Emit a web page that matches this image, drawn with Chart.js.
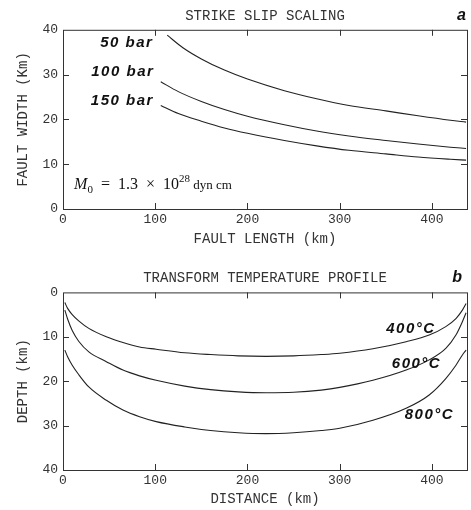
<!DOCTYPE html>
<html>
<head>
<meta charset="utf-8">
<script src="https://cdn.jsdelivr.net/npm/chart.js@4"></script>
<style>
  html, body { margin: 0; padding: 0; background: #fff; }
  #wrap { position: relative; width: 471px; height: 510px; }
  canvas { position: absolute; left: 0; }
</style>
</head>
<body>
<div id="wrap">
  <canvas id="scalingChart" width="471" height="255" style="top:0"></canvas>
  <canvas id="profileChart" width="471" height="255" style="top:255px"></canvas>
</div>
<script>
// panel a: fault width vs fault length (km)
const length50 = [113, 130, 150, 175, 200, 240, 275, 310, 350, 385, 420, 437];
const width50 = [38.8, 36.0, 33.5, 31.0, 29.0, 26.4, 24.6, 23.1, 21.9, 20.8, 19.8, 19.4];
const length100 = [106, 125, 150, 175, 200, 240, 275, 310, 350, 385, 420, 437];
const width100 = [28.4, 26.2, 24.0, 22.2, 20.7, 18.8, 17.4, 16.3, 15.3, 14.5, 13.8, 13.5];
const width150 = [23.1, 21.3, 19.6, 18.1, 16.9, 15.3, 14.1, 13.1, 12.3, 11.6, 11.1, 10.9];

// panel b: isotherm depth vs distance (km)
const distance = [2, 5, 10, 17, 28, 47, 65, 83, 101, 132, 160, 190, 220, 250, 280, 300, 336, 372, 397, 415, 426, 433, 437];
const depth400 = [2.3, 3.6, 5.0, 6.4, 8.1, 10.0, 11.3, 12.3, 12.8, 13.6, 14.0, 14.3, 14.4, 14.3, 14.0, 13.7, 12.7, 11.1, 9.6, 7.7, 5.9, 4.0, 2.5];
const depth600 = [4.0, 6.0, 8.6, 11.0, 13.4, 15.6, 17.5, 18.8, 19.8, 21.1, 21.9, 22.4, 22.6, 22.5, 22.0, 21.4, 19.8, 17.5, 15.2, 12.6, 9.6, 6.6, 4.6];
const depth800 = [13.0, 14.5, 16.4, 18.5, 21.3, 24.3, 26.5, 28.0, 29.1, 30.3, 31.1, 31.6, 31.8, 31.6, 31.1, 30.6, 28.8, 26.1, 23.1, 19.4, 16.4, 14.1, 13.0];

const xTicks = [0, 100, 200, 300, 400];
const yTicks = [0, 10, 20, 30, 40];

const INK = '#222';
const plotFont = { family: '"Liberation Mono", "DejaVu Sans Mono", monospace', size: 14 };
const tickFont = { family: '"Liberation Mono", "DejaVu Sans Mono", monospace', size: 13 };

function toPoints(xs, ys) {
    return xs.map((v, i) => ({ x: v, y: ys[i] }));
}

function curve(xs, ys) {
    return {
        data: toPoints(xs, ys),
        borderColor: INK,
        borderWidth: 1.1,
        pointRadius: 0,
        fill: false,
        cubicInterpolationMode: 'monotone'
    };
}

// frame round the plot with short inward ticks on all four sides
const frameTicks = {
    id: 'frameTicks',
    afterDatasetsDraw(chart) {
        const { ctx, chartArea: a, scales: { x, y } } = chart;
        const len = 6;
        ctx.save();
        ctx.strokeStyle = '#333';
        ctx.lineWidth = 1;
        ctx.strokeRect(a.left + 0.5, a.top + 0.5, a.right - a.left, a.bottom - a.top);
        ctx.beginPath();
        xTicks.forEach(v => {
            if (v <= x.min || v >= x.max) return;
            const px = Math.round(x.getPixelForValue(v)) + 0.5;
            ctx.moveTo(px, a.top); ctx.lineTo(px, a.top + len);
            ctx.moveTo(px, a.bottom); ctx.lineTo(px, a.bottom - len);
        });
        yTicks.forEach(v => {
            if (v <= y.min || v >= y.max) return;
            const py = Math.round(y.getPixelForValue(v)) + 0.5;
            ctx.moveTo(a.left, py); ctx.lineTo(a.left + len, py);
            ctx.moveTo(a.right, py); ctx.lineTo(a.right - len, py);
        });
        ctx.stroke();
        ctx.restore();
    }
};

// curve labels, panel letter and the moment note
const panelText = {
    id: 'panelText',
    afterDraw(chart, args, opts) {
        const { ctx, scales: { x, y } } = chart;
        ctx.save();
        ctx.fillStyle = '#111';
        ctx.textBaseline = 'middle';
        ctx.textAlign = 'right';
        ctx.font = 'italic bold 15px "Liberation Sans", Arial, sans-serif';
        ctx.letterSpacing = '1.5px';
        (opts.labels || []).forEach(l => {
            ctx.fillText(l.text, x.getPixelForValue(l.x), y.getPixelForValue(l.y));
        });
        ctx.letterSpacing = '0px';
        if (opts.letter) {
            ctx.font = 'italic bold 16px "Liberation Sans", Arial, sans-serif';
            ctx.fillText(opts.letter, opts.letterX, opts.letterY);
        }
        if (opts.moment) {
            let px = x.getPixelForValue(opts.moment.x);
            const base = y.getPixelForValue(opts.moment.y);
            ctx.textAlign = 'left';
            ctx.textBaseline = 'alphabetic';
            const part = (txt, font, dy) => {
                ctx.font = font;
                ctx.fillText(txt, px, base + dy);
                px += ctx.measureText(txt).width;
            };
            const serif = '"Liberation Serif", "DejaVu Serif", serif';
            part('M', 'italic 16px ' + serif, 0);
            part('0', '11px ' + serif, 4);
            part('  =  1.3  \u00d7  10', '16px ' + serif, 0);
            part('28', '11px ' + serif, -7);
            part(' dyn cm', '13px ' + serif, 0);
        }
        ctx.restore();
    }
};

function axisOptions(title, opts) {
    return {
        type: 'linear',
        min: opts.min,
        max: opts.max,
        reverse: !!opts.reverse,
        grid: { display: false, drawTicks: false },
        border: { display: false },
        ticks: {
            stepSize: opts.step,
            includeBounds: false,
            padding: opts.padding,
            color: '#333',
            font: tickFont,
            maxRotation: 0
        },
        title: {
            display: true,
            text: title,
            color: '#333',
            font: plotFont,
            padding: opts.titlePadding
        },
        afterFit: opts.afterFit
    };
}

function buildChart(id, cfg) {
    return new Chart(document.getElementById(id), {
        type: 'line',
        data: { datasets: cfg.datasets },
        options: {
            responsive: false,
            animation: false,
            layout: { padding: { left: 0, right: 4, top: 0, bottom: 0 } },
            plugins: {
                legend: { display: false },
                tooltip: { enabled: false },
                title: {
                    display: true,
                    text: cfg.title,
                    fullSize: false,
                    color: '#333',
                    font: { ...plotFont, weight: 'normal' },
                    padding: cfg.titlePadding
                },
                panelText: cfg.text
            },
            scales: {
                x: axisOptions(cfg.xTitle, {
                    min: 0, max: 438, step: 100, padding: 3,
                    titlePadding: { top: 0, bottom: cfg.xTitleBottom },
                    afterFit: s => { s.height = cfg.xHeight; }
                }),
                y: axisOptions(cfg.yTitle, {
                    min: 0, max: 40, step: 10, padding: 5, reverse: cfg.reverse,
                    titlePadding: { top: 15, bottom: 0 },
                    afterFit: s => { s.width = 63; }
                })
            }
        },
        plugins: [frameTicks, panelText]
    });
}

buildChart('scalingChart', {
    title: 'STRIKE SLIP SCALING',
    titlePadding: { top: 8, bottom: 5 },
    xTitle: 'FAULT LENGTH (km)',
    yTitle: 'FAULT WIDTH (Km)',
    xHeight: 46,
    xTitleBottom: 7,
    reverse: false,
    datasets: [
        curve(length50, width50),
        curve(length100, width100),
        curve(length100, width150)
    ],
    text: {
        labels: [
            { text: '50 bar', x: 98, y: 37.1 },
            { text: '100 bar', x: 99, y: 30.6 },
            { text: '150 bar', x: 98.5, y: 24.1 }
        ],
        letter: 'a', letterX: 466, letterY: 16,
        moment: { x: 12, y: 4.5 }
    }
});

buildChart('profileChart', {
    title: 'TRANSFORM TEMPERATURE PROFILE',
    titlePadding: { top: 14.6, bottom: 6 },
    xTitle: 'DISTANCE (km)',
    yTitle: 'DEPTH (km)',
    xHeight: 40,
    xTitleBottom: 2,
    reverse: true,
    datasets: [
        curve(distance, depth400),
        curve(distance, depth600),
        curve(distance, depth800)
    ],
    text: {
        labels: [
            { text: '400\u00b0C', x: 404, y: 8.1 },
            { text: '600\u00b0C', x: 410, y: 16.0 },
            { text: '800\u00b0C', x: 424, y: 27.6 }
        ],
        letter: 'b', letterX: 462, letterY: 23
    }
});
</script>
</body>
</html>
